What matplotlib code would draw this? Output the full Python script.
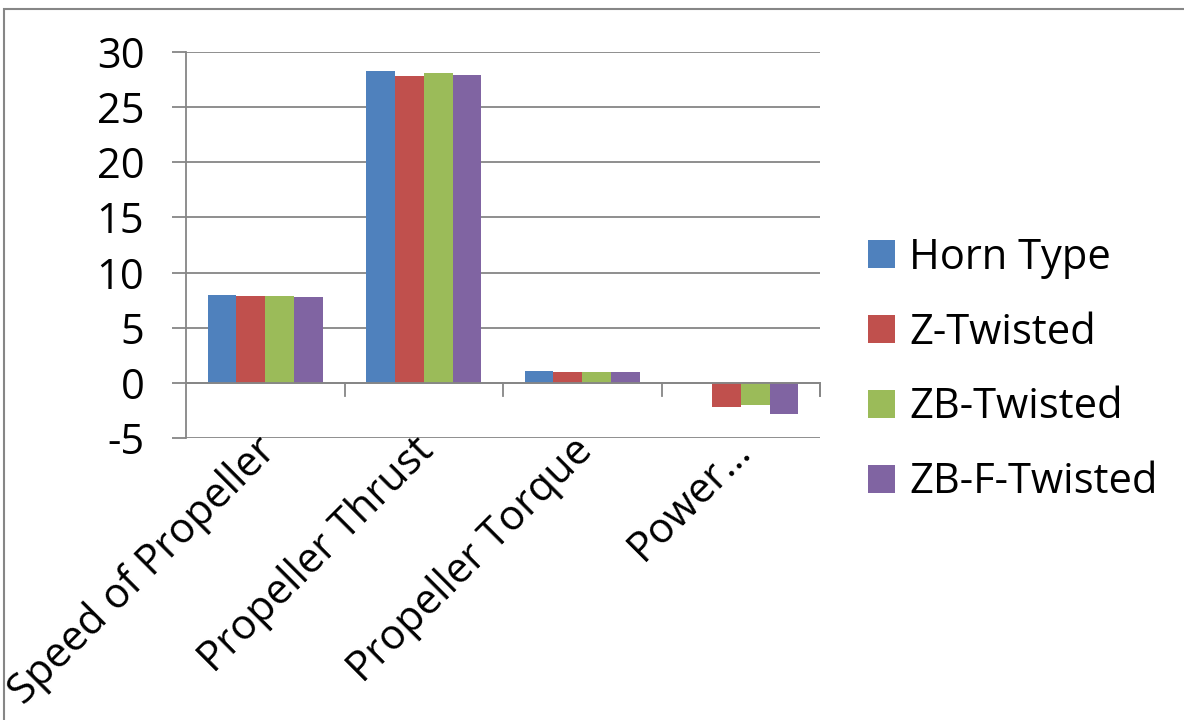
import matplotlib
matplotlib.use("Agg")
import matplotlib.pyplot as plt
import numpy as np
from matplotlib.patches import Rectangle

categories = ["Speed of Propeller", "Propeller Thrust", "Propeller Torque", "Power…"]
series_names = ["Horn Type", "Z-Twisted", "ZB-Twisted", "ZB-F-Twisted"]
horn_type = [7.95, 28.3, 1.05, 0.0]
z_twisted = [7.85, 27.8, 1.02, -2.15]
zb_twisted = [7.85, 28.1, 1.02, -1.98]
zbf_twisted = [7.8, 27.9, 1.02, -2.8]
colors = ["#4F81BD", "#C0504D", "#9BBB59", "#8064A2"]
yticks = [-5, 0, 5, 10, 15, 20, 25, 30]

plt.rcParams['font.family'] = ['Open Sans', 'DejaVu Sans']
FS = 30

fig = plt.figure(figsize=(11.84, 7.2), dpi=100)
W, H = 1184, 720
ax = fig.add_axes([186 / W, 1 - 438 / H, (820 - 186) / W, (438 - 52) / H])

data = [horn_type, z_twisted, zb_twisted, zbf_twisted]
x = np.arange(len(categories))
n = len(data)
group = 4 / 5.5
bw = group / n
bars = []
for i, (vals, c) in enumerate(zip(data, colors)):
    b = ax.bar(x - group / 2 + bw * (i + 0.5), vals, width=bw, color=c, label=series_names[i],
               edgecolor='none', zorder=3)
    bars.append(b)

ax.set_xlim(-0.5, len(categories) - 0.5)
ax.set_ylim(-5, 30)
ax.set_yticks(yticks)
ax.set_yticklabels([str(t) for t in yticks], fontsize=FS)
ax.yaxis.grid(True, color='#868686', linewidth=1.3, zorder=0)
ax.tick_params(axis='y', length=10, width=1.3, color='#868686', pad=20, direction='out')
for s in ['top', 'right', 'bottom']:
    ax.spines[s].set_visible(False)
ax.spines['left'].set_color('#868686')
ax.spines['left'].set_linewidth(1.3)
ax.axhline(0, color='#868686', linewidth=1.3, zorder=4)

ax.set_xticks(x)
ax.set_xticklabels([])
ax.tick_params(axis='x', length=0)
for sep in np.arange(0.5, len(categories) - 0.5 + 1e-9, 1.0):
    ax.plot([sep, sep], [0, -1.2], color='#868686', linewidth=1.3, zorder=4, clip_on=False)
ax.plot([len(categories) - 0.5] * 2, [0, -1.2], color='#868686', linewidth=1.3, zorder=4, clip_on=False)

for xi, lab in zip(x, categories):
    ax.annotate(lab, xy=(xi, -5), xytext=(-8, 6), textcoords='offset points',
                rotation=45, ha='right', va='top', rotation_mode='anchor', fontsize=FS)

leg = ax.legend(handles=bars, labels=series_names, loc='upper left',
                bbox_to_anchor=(851 / W, 1 - 220 / H), bbox_transform=fig.transFigure,
                frameon=False, fontsize=FS, handlelength=0.65, handleheight=0.65,
                handletextpad=0.35, labelspacing=0.79, borderaxespad=0)

fig.patches.append(Rectangle((4 / W, -0.2), 1.2, 1.2 - 9 / H, transform=fig.transFigure,
                             fill=False, edgecolor='#868686', linewidth=1.5))

fig.savefig("out.png", dpi=100, facecolor='white')
